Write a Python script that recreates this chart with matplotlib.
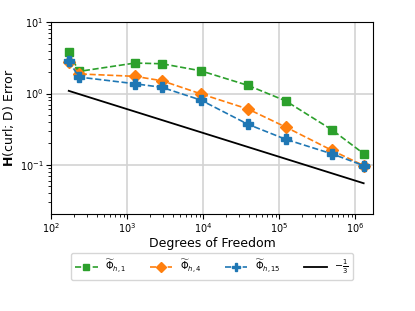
import matplotlib
matplotlib.use('Agg')
import matplotlib.pyplot as plt
import numpy as np

# degrees of freedom
dofs = [171, 233, 1270, 2880, 9330, 39000, 122000, 498000, 1300000]

# H(curl; D) errors
err_phi1 = [3.77, 2.04, 2.67, 2.61, 2.08, 1.30, 0.79, 0.31, 0.144]
err_phi4 = [2.78, 1.88, 1.74, 1.51, 0.99, 0.607, 0.34, 0.16, 0.098]
err_phi15 = [2.85, 1.70, 1.37, 1.22, 0.81, 0.371, 0.229, 0.143, 0.098]

rate = -1.0 / 3.0
ref_const = 6.05

fig = plt.figure(figsize=(4.15, 3.11), dpi=100)
ax = fig.add_axes([0.123, 0.312, 0.776, 0.617])

ax.loglog(dofs, err_phi1, 's--', color='C2', markersize=6, lw=1.2,
          label=r'$\widetilde{\Phi}_{h,1}$')
ax.loglog(dofs, err_phi4, 'D--', color='C1', markersize=6, lw=1.2,
          label=r'$\widetilde{\Phi}_{h,4}$')
ax.loglog(dofs, err_phi15, 'P--', color='C0', markersize=7, lw=1.2,
          label=r'$\widetilde{\Phi}_{h,15}$')
ref = ref_const * np.array(dofs, dtype=float) ** rate
ax.loglog(dofs, ref, '-', color='black', lw=1.3, label=r'$-\frac{1}{3}$')

ax.set_xlim(1e2, 1.73e6)
ax.set_ylim(0.0206, 10)
ax.grid(True, which='major', color='#d3d3d3', lw=1.2)
ax.tick_params(labelsize=7, pad=2)

ax.set_xlabel('Degrees of Freedom', fontsize=9, labelpad=1)
ax.set_ylabel(r'$\mathbf{H}$(curl; D) Error', fontsize=9)
ax.yaxis.set_label_coords(-0.11, 0.5)

leg = ax.legend(loc='upper center', bbox_to_anchor=(0.5, -0.18), ncol=4,
                fontsize=7, handlelength=2.3, columnspacing=2.4,
                markerscale=0.8)

fig.savefig('out.png', dpi=100)
